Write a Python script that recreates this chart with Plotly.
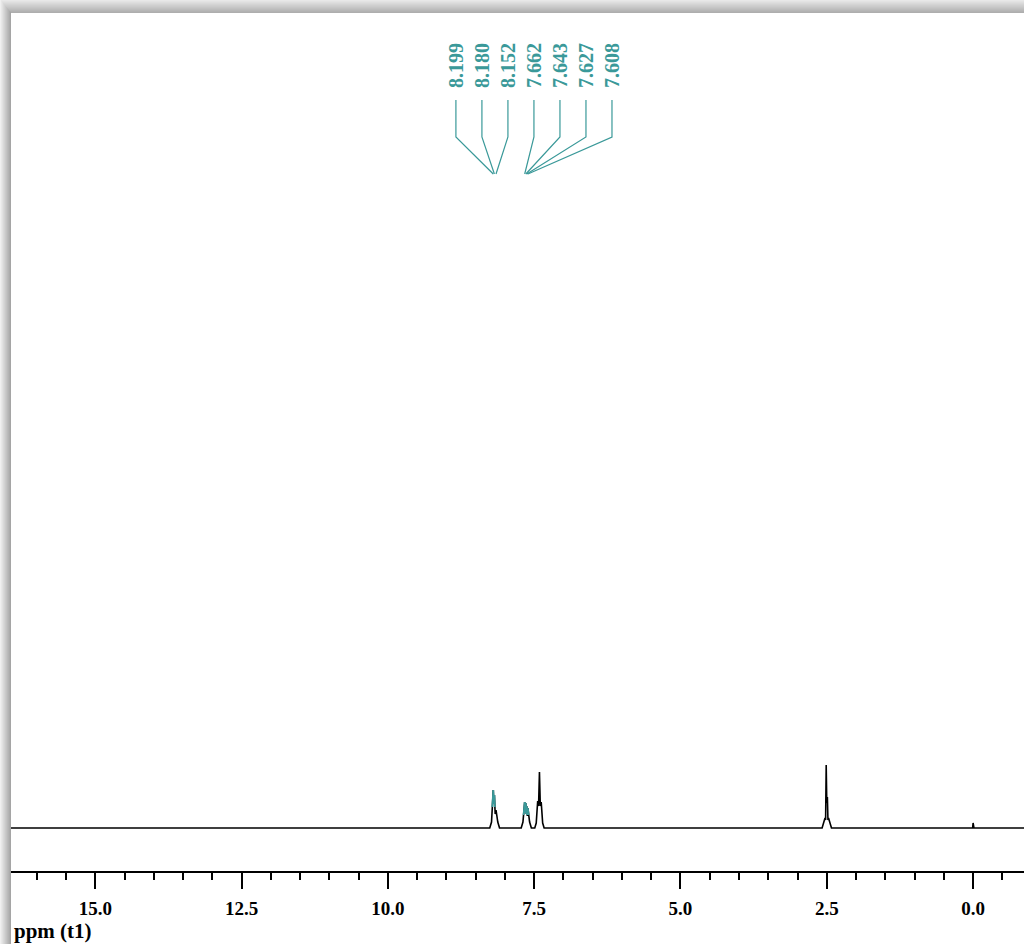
import plotly.graph_objects as go

# ---- 1H NMR data (chemical shift in ppm, intensity in arbitrary units) ----
# Picked multiplet near 8.2 ppm
mult_a_ppm = [8.199, 8.180, 8.152]
mult_a_int = [38, 33, 18]
mult_a_valley = [24, 14]

# Picked multiplet near 7.6 ppm
mult_b_ppm = [7.662, 7.643, 7.627, 7.608]
mult_b_int = [26, 25, 22, 20]
mult_b_valley = [15, 14, 12]

# Unpicked aromatic signal near 7.4 ppm
mult_c_ppm = [7.44, 7.41, 7.38]
mult_c_int = [27, 56, 26]
mult_c_valley = [22, 22]

# Residual solvent (DMSO) near 2.5 ppm
mult_d_ppm = [2.53, 2.51, 2.49, 2.47]
mult_d_int = [10, 63, 31, 10]
mult_d_valley = [8, 25, 8]

# Reference (TMS)
mult_e_ppm = [0.0]
mult_e_int = [5]
mult_e_valley = []

x_range = [16.44, -0.87]
tick_values = [15.0, 12.5, 10.0, 7.5, 5.0, 2.5, 0.0]

TEAL = "#3a9999"
SERIF = "Liberation Serif, Times New Roman, serif"


def multiplet(ppms, heights, valleys, foot, foot_h):
    """Polyline (ppm, intensity) for one multiplet, peaks in descending ppm."""
    xs = [ppms[0] + foot, ppms[0] + foot / 2]
    ys = [0, foot_h]
    for i, (p, h) in enumerate(zip(ppms, heights)):
        xs.append(p)
        ys.append(h)
        if i < len(ppms) - 1:
            xs.append((p + ppms[i + 1]) / 2)
            ys.append(valleys[i])
    xs += [ppms[-1] - foot / 2, ppms[-1] - foot]
    ys += [foot_h, 0]
    return xs, ys


def above(xs, ys, cut):
    """Parts of a polyline lying above an intensity level (None-separated)."""
    ox, oy = [], []
    for i in range(len(xs) - 1):
        x0, y0, x1, y1 = xs[i], ys[i], xs[i + 1], ys[i + 1]
        if y0 < cut and y1 < cut:
            continue
        if y0 < cut:
            t = (cut - y0) / (y1 - y0)
            x0, y0 = x0 + t * (x1 - x0), cut
            ox.append(None)
            oy.append(None)
        if y1 < cut:
            t = (cut - y0) / (y1 - y0)
            x1, y1 = x0 + t * (x1 - x0), cut
        ox += [x0, x1]
        oy += [y0, y1]
    return ox, oy


groups = [
    (mult_a_ppm, mult_a_int, mult_a_valley, 0.06, 6),
    (mult_b_ppm, mult_b_int, mult_b_valley, 0.06, 6),
    (mult_c_ppm, mult_c_int, mult_c_valley, 0.05, 5),
    (mult_d_ppm, mult_d_int, mult_d_valley, 0.05, 5),
    (mult_e_ppm, mult_e_int, mult_e_valley, 0.015, 0),
]

spec_x, spec_y = [x_range[0] + 1], [0]
shapes_xy = []
for g in groups:
    gx, gy = multiplet(*g)
    shapes_xy.append((gx, gy))
    spec_x += gx
    spec_y += gy
spec_x.append(x_range[1] - 1)
spec_y.append(0)

fig = go.Figure()
fig.add_trace(go.Scatter(x=spec_x, y=spec_y, mode="lines",
                         line=dict(color="black", width=1.6),
                         hoverinfo="skip", showlegend=False))

# picked peak tops drawn in the annotation colour
for (gx, gy), cut in [(shapes_xy[0], 21), (shapes_xy[1], 13)]:
    tx, ty = above(gx, gy, cut)
    fig.add_trace(go.Scatter(x=tx, y=ty, mode="lines",
                             line=dict(color=TEAL, width=1.8),
                             hoverinfo="skip", showlegend=False))

# peak labels with connector lines
picked = mult_a_ppm + mult_b_ppm
n = len(picked)
label_center, label_step = 7.504, 0.4445
label_x = [label_center + ((n - 1) / 2 - i) * label_step for i in range(n)]
for lx, p in zip(label_x, picked):
    fig.add_shape(type="path",
                  path=f"M {lx} 728 L {lx} 691 L {p} 654",
                  xref="x", yref="y",
                  line=dict(color=TEAL, width=1.2))
    fig.add_annotation(x=lx, y=763, xref="x", yref="y",
                       text=f"{p:.3f}", textangle=-90, showarrow=False,
                       xanchor="center", yanchor="middle",
                       font=dict(family=SERIF, size=20, color=TEAL,
                                 weight="bold"))

# window shadow along the top and left edges
W, H = 1024, 944
L, T, B = 11, 13, 73
pw, ph = W - L, H - T - B


def px(x):
    return (x - L) / pw


def py(y):
    return (H - B - y) / ph


for k in range(13):
    g = int(232 - 58 * k / 12)
    fig.add_shape(type="rect", xref="paper", yref="paper",
                  x0=px(k * 11 / 13), x1=px(W), y0=py(k), y1=py(k + 1),
                  line=dict(width=0), fillcolor=f"rgb({g},{g},{g})")
for j in range(11):
    g = int(240 - 75 * j / 10)
    fig.add_shape(type="rect", xref="paper", yref="paper",
                  x0=px(j), x1=px(j + 1), y0=py(j * 13 / 11), y1=py(H),
                  line=dict(width=0), fillcolor=f"rgb({g},{g},{g})")

fig.add_annotation(x=px(12), y=py(931), xref="paper", yref="paper",
                   text="ppm (t1)", showarrow=False,
                   xanchor="left", yanchor="middle",
                   font=dict(family=SERIF, size=21, color="black",
                             weight="bold"))

fig.update_layout(
    width=W, height=H,
    margin=dict(l=L, r=0, t=T, b=B, pad=0),
    paper_bgcolor="white", plot_bgcolor="white",
    xaxis=dict(range=x_range, showgrid=False, zeroline=False,
               showline=True, linecolor="black", linewidth=1.6,
               tickmode="array", tickvals=tick_values,
               ticktext=[f"{v:.1f}" for v in tick_values],
               ticks="outside", ticklen=16, tickwidth=1.6, tickcolor="black",
               ticklabelstandoff=3,
               tickfont=dict(family=SERIF, size=19, color="black",
                             weight="bold"),
               minor=dict(dtick=0.5, tick0=0, ticks="outside", ticklen=7,
                          tickwidth=1.6, tickcolor="black", showgrid=False),
               automargin=False, fixedrange=True),
    yaxis=dict(range=[-43, 815], visible=False, automargin=False,
               fixedrange=True),
    showlegend=False,
)

fig.write_html("out.html")
